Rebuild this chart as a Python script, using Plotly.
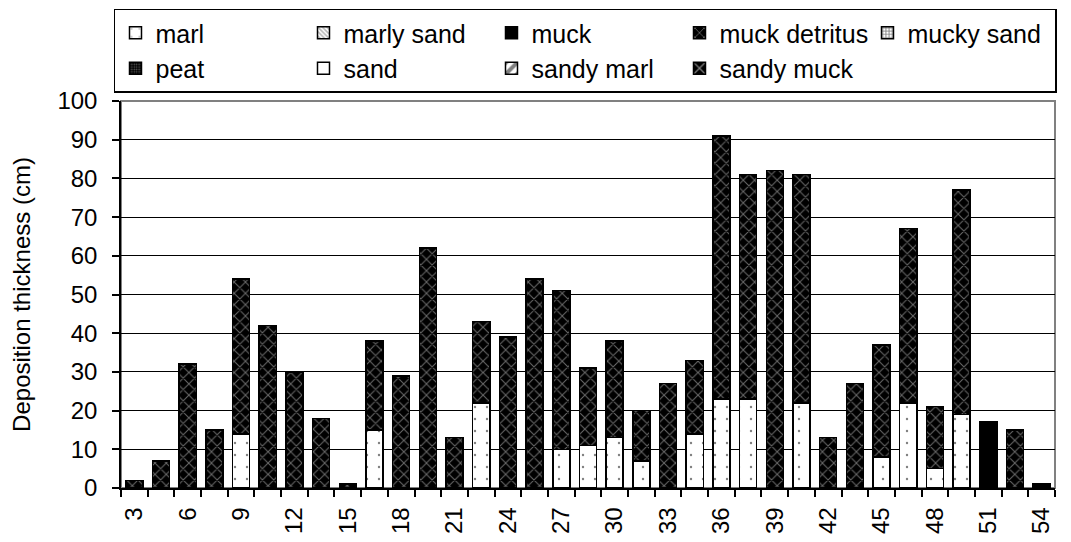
import plotly.graph_objects as go

# ---- data ----
tick_labels = ["3", "6", "9", "12", "15", "18", "21", "24", "27", "30",
               "33", "36", "39", "42", "45", "48", "51", "54"]
n_bars = 35

marl = [None, None, None, None, 14, None, None, None, None, 15,
        None, None, None, 22, None, None, 10, 11, 13, 7,
        None, 14, 23, 23, None, 22, None, None, 8, 22,
        5, 19, None, None, None]
muck = [None] * 32 + [17, None, 1]
muck_detritus = [2, 7, 32, 15, 40, 42, 30, 18, 1, 23,
                 29, 62, 13, 21, 39, 54, 41, 20, 25, 13,
                 27, 19, 68, 58, 82, 59, 13, 27, 29, 45,
                 16, 58, None, 15, None]
# categories present only in the legend (no bars)
marly_sand = [None] * n_bars
mucky_sand = [None] * n_bars
peat = [None] * n_bars
sand = [None] * n_bars
sandy_marl = [None] * n_bars
sandy_muck = [None] * n_bars

series = [
    ("marl", marl, dict(color="white", pattern=dict(shape=".", fgcolor="black", bgcolor="white", size=12, solidity=0.03))),
    ("marly sand", marly_sand, dict(color="white", pattern=dict(shape="\\", fgcolor="#707070", bgcolor="white", size=4, solidity=0.5))),
    ("muck", muck, dict(color="black")),
    ("muck detritus", muck_detritus, dict(color="black", pattern=dict(shape="x", fgcolor="#d0d0d0", bgcolor="black", size=8, solidity=0.24))),
    ("mucky sand", mucky_sand, dict(color="white", pattern=dict(shape="+", fgcolor="black", bgcolor="white", size=4, solidity=0.45))),
    ("peat", peat, dict(color="black", pattern=dict(shape=".", fgcolor="#b0b0b0", bgcolor="black", size=3, solidity=0.35))),
    ("sand", sand, dict(color="white")),
    ("sandy marl", sandy_marl, dict(color="white", pattern=dict(shape="/", fgcolor="black", bgcolor="white", size=14, solidity=0.5))),
    ("sandy muck", sandy_muck, dict(color="black", pattern=dict(shape="x", fgcolor="white", bgcolor="black", size=12, solidity=0.3))),
]

positions = list(range(n_bars))
FONT = "Liberation Sans, Arial, sans-serif"

fig = go.Figure()
for name, vals, mk in series:
    mk = dict(mk)
    mk["line"] = dict(color="black", width=1.5)
    fig.add_trace(go.Bar(
        x=positions, y=vals, name=name, marker=mk,
    ))

fig.update_layout(
    width=1071, height=542,
    barmode="stack", bargap=0.36,
    plot_bgcolor="white", paper_bgcolor="white",
    font=dict(family=FONT, size=24, color="black"),
    margin=dict(l=113, r=24, t=93, b=62, autoexpand=False),
    showlegend=True,
    legend=dict(
        orientation="h", x=-0.0075, xanchor="left", y=1.239, yanchor="top",
        bordercolor="black", borderwidth=1.5, bgcolor="white",
        font=dict(family=FONT, size=25, color="black"),
        entrywidth=143, entrywidthmode="pixels",
        itemwidth=30, traceorder="normal",
    ),
    shapes=[dict(type="rect", xref="paper", yref="paper", x0=0, x1=1, y0=0, y1=1,
                 line=dict(color="#808080", width=2), layer="below")],
)

fig.update_xaxes(
    range=[-0.5, n_bars - 0.5],
    tickmode="array", tickvals=positions[::2], ticktext=tick_labels,
    tickangle=-90, ticks="", showgrid=False, zeroline=False,
    showline=True, linecolor="black", linewidth=1.5,
    ticklabelstandoff=8,
    minor=dict(ticks="outside", tickmode="array",
               tickvals=[p - 0.5 for p in positions] + [n_bars - 0.5],
               ticklen=7, tickcolor="black", tickwidth=1.5, showgrid=False),
    tickfont=dict(family=FONT, size=24, color="black"),
)
fig.update_yaxes(
    range=[0, 100], dtick=10, tick0=0,
    ticks="outside", ticklen=7, tickcolor="black", tickwidth=1.5,
    ticklabelstandoff=10,
    showgrid=True, gridcolor="black", gridwidth=1,
    showline=True, linecolor="black", linewidth=1.5, zeroline=False,
    title=dict(text="Deposition thickness (cm)", font=dict(family=FONT, size=24, color="black"), standoff=22),
    tickfont=dict(family=FONT, size=24, color="black"),
)

fig.write_html("out.html")
